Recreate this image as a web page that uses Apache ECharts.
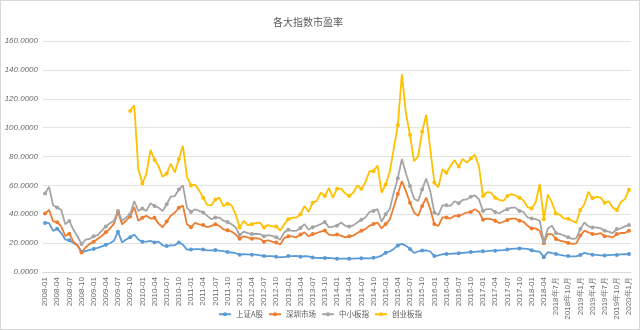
<!DOCTYPE html>
<html><head><meta charset="utf-8">
<script src="https://cdn.jsdelivr.net/npm/echarts@6/dist/echarts.min.js"></script>
<style>html,body{margin:0;padding:0;background:#fff}#c{width:640px;height:330px;box-sizing:border-box;border:1px solid #d9d9d9}</style>
</head><body><div id="c"></div>
<script>
// categories: 2008-01 .. 2020-01 (monthly)
var categories = [];
for (var y = 2008; y <= 2020; y++) {
  for (var m = 1; m <= 12; m++) {
    if (y === 2020 && m > 1) break;
    var idx = (y - 2008) * 12 + (m - 1);
    categories.push(idx <= 123 ? (y + '-' + (m < 10 ? '0' + m : m)) : (y + '年' + m + '月'));
  }
}
var seriesNames = ['上证A股', '深圳市场', '中小板指', '创业板指'];
var shA = [
 34.0,33.8,28.5,30.0,27.0,22.5,22.0,20.0,18.5,14.0,14.4,15.3,
 16.0,16.7,17.7,18.8,19.9,21.7,27.9,20.5,22.5,24.0,26.0,22.5,
 21.0,21.0,21.5,20.5,21.0,18.5,18.0,18.5,18.5,20.5,19.0,15.5,
 15.5,15.8,15.8,15.5,15.0,15.0,15.2,14.8,14.5,13.8,13.5,13.0,
 12.0,12.3,12.2,12.0,12.0,11.5,11.0,11.0,11.0,10.5,10.3,10.3,
 11.0,11.0,11.2,10.5,11.0,10.8,10.0,9.8,9.7,9.7,9.8,9.5,
 9.2,9.2,9.2,9.2,9.3,9.4,9.5,9.6,9.5,9.8,10.3,11.4,
 13.3,14.2,16.0,18.3,19.5,18.3,16.0,13.3,14.2,14.9,14.9,14.2,
 11.0,11.5,12.3,12.5,12.6,12.8,13.0,13.3,13.5,13.8,14.0,14.2,
 14.3,14.5,14.8,14.8,15.0,15.2,15.5,16.0,16.2,16.3,16.2,16.0,
 15.0,14.5,14.0,10.3,13.8,13.0,12.5,11.8,11.3,11.0,10.8,10.8,
 11.8,13.3,12.5,12.0,11.8,11.5,11.5,11.7,11.8,11.8,12.2,12.3,
 12.4];
var szMkt = [
 40.5,43.0,35.0,34.5,31.5,25.0,26.5,21.0,18.5,13.5,17.0,19.5,
 21.0,23.0,25.0,27.5,30.0,33.5,41.5,33.0,35.5,38.5,45.0,35.5,
 37.5,39.0,37.0,37.5,33.5,31.0,35.0,39.0,41.0,44.5,46.0,33.0,
 31.0,34.0,33.0,32.5,31.0,32.0,33.0,32.0,29.5,29.0,28.0,26.0,
 23.0,24.7,24.0,23.0,23.5,23.0,21.0,22.0,21.0,20.4,19.0,23.5,
 24.7,24.7,24.0,25.9,27.5,24.7,26.3,27.0,28.0,28.7,25.9,25.4,
 26.0,25.2,24.0,24.7,25.2,27.0,28.6,29.7,32.0,33.2,34.3,30.2,
 33.2,36.2,45.0,54.0,63.0,56.0,48.0,41.2,38.9,45.8,51.5,43.5,
 33.2,32.0,37.8,37.8,37.0,38.9,38.9,40.0,41.2,41.6,43.5,41.6,
 36.2,37.0,36.6,35.5,33.9,34.8,36.0,37.0,37.0,35.5,34.8,32.0,
 30.2,30.2,28.6,20.0,26.3,26.3,22.9,21.7,21.0,20.1,19.5,19.8,
 25.2,28.6,27.5,26.3,26.3,27.0,24.7,24.7,24.0,26.3,27.0,27.0,
 28.6];
var smeIdx = [
 54.4,59.0,46.2,44.6,43.0,33.1,35.4,29.2,24.7,19.4,22.4,22.9,
 24.7,25.6,28.6,31.6,33.8,35.4,42.3,35.4,37.7,40.0,49.2,42.3,
 43.9,42.3,47.6,45.7,44.6,42.3,46.9,52.2,52.6,57.2,59.9,44.6,
 41.6,43.4,42.3,41.2,38.9,36.6,37.7,37.7,35.4,34.7,33.1,30.9,
 25.6,27.9,27.0,26.3,26.5,26.3,24.7,25.5,25.0,24.0,22.4,27.5,
 29.2,28.5,28.5,30.4,33.1,29.2,31.0,32.0,33.1,34.7,30.9,31.5,
 32.0,34.3,32.0,31.6,32.3,34.3,36.2,37.8,41.6,42.3,43.5,34.8,
 40.0,43.5,55.0,65.0,78.3,68.2,59.5,50.8,49.2,57.2,64.8,56.0,
 41.2,39.4,46.2,46.2,45.8,49.0,47.6,49.9,50.3,52.2,53.1,50.3,
 42.3,43.5,43.5,41.6,40.7,42.3,43.5,44.6,44.6,42.3,41.6,37.8,
 37.1,36.6,35.5,21.0,30.2,32.0,27.0,26.3,25.2,24.0,22.9,23.3,
 29.7,34.3,31.6,30.9,30.9,30.2,28.6,27.9,27.0,29.7,30.2,31.6,
 32.5];
var chinext = [
 null,null,null,null,null,null,null,null,null,null,null,null,
 null,null,null,null,null,null,null,null,null,111.6,115.5,71.4,
 61.3,68.2,84.6,77.8,73.2,65.9,68.2,75.0,69.0,78.2,87.4,65.9,
 60.0,60.5,56.5,51.5,46.5,46.2,50.3,51.5,45.5,47.3,46.2,40.0,
 30.9,35.4,32.5,33.1,33.8,34.2,30.9,32.5,31.6,31.6,28.6,33.1,
 36.6,37.7,37.7,40.0,45.7,41.6,48.0,49.2,54.9,52.6,58.3,51.5,
 57.7,57.7,54.5,52.6,54.9,60.0,57.7,62.2,69.8,69.8,73.7,54.9,
 60.6,69.1,85.5,101.6,137.0,109.8,95.0,76.7,80.1,97.3,108.9,85.1,
 62.0,58.6,71.2,68.8,73.5,77.5,73.0,78.3,75.8,78.6,81.2,73.2,
 52.6,55.4,54.9,51.5,50.0,49.2,52.6,54.0,53.0,51.5,49.5,45.0,
 44.0,48.3,61.0,36.5,53.8,48.0,40.5,39.5,37.0,36.8,35.5,34.0,
 43.0,47.0,55.6,51.0,52.0,51.5,48.0,49.0,44.5,43.0,48.5,50.5,
 57.0];
var colors = ['#5B9BD5', '#ED7D31', '#A5A5A5', '#FFC000'];
var values = [shA, szMkt, smeIdx, chinext];

var chart = echarts.init(document.getElementById('c'), null, {renderer: 'canvas'});
var series = seriesNames.map(function (n, k) {
  return {
    name: n, type: 'line', data: values[k],
    symbol: 'circle', symbolSize: 4, showSymbol: true,
    lineStyle: {width: 1.8, color: colors[k]},
    itemStyle: {color: colors[k]},
    connectNulls: false, animation: false
  };
});
chart.setOption({
  animation: false,
  color: colors,
  title: {
    text: '各大指数市盈率', left: 267, top: 11,
    textStyle: {fontSize: 10, fontWeight: 'normal', color: '#595959', fontFamily: 'Noto Sans CJK SC'}
  },
  legend: {
    bottom: 6, left: 'center', itemWidth: 12, itemHeight: 5, itemGap: 5,
    textStyle: {fontSize: 7.5, color: '#595959', fontFamily: 'Noto Sans CJK SC'},
    data: seriesNames
  },
  grid: {left: 42, right: 8, top: 40, bottom: 57, containLabel: false},
  xAxis: {
    type: 'category', data: categories, boundaryGap: true,
    axisLine: {show: true, lineStyle: {color: '#d9d9d9'}},
    axisTick: {show: false},
    axisLabel: {rotate: 90, interval: 2, fontSize: 8, color: '#6b6b6b', margin: 5, fontFamily: 'Liberation Sans'}
  },
  yAxis: {
    type: 'value', min: 0, max: 160, interval: 20,
    axisLine: {show: false}, axisTick: {show: false},
    splitLine: {lineStyle: {color: '#e3e3e3', width: 1}},
    axisLabel: {fontSize: 8, color: '#6b6b6b', margin: 5, fontStyle: 'italic', fontFamily: 'Liberation Sans',
      formatter: function (v) { return v.toFixed(4); }}
  },
  series: series
});
</script></body></html>
